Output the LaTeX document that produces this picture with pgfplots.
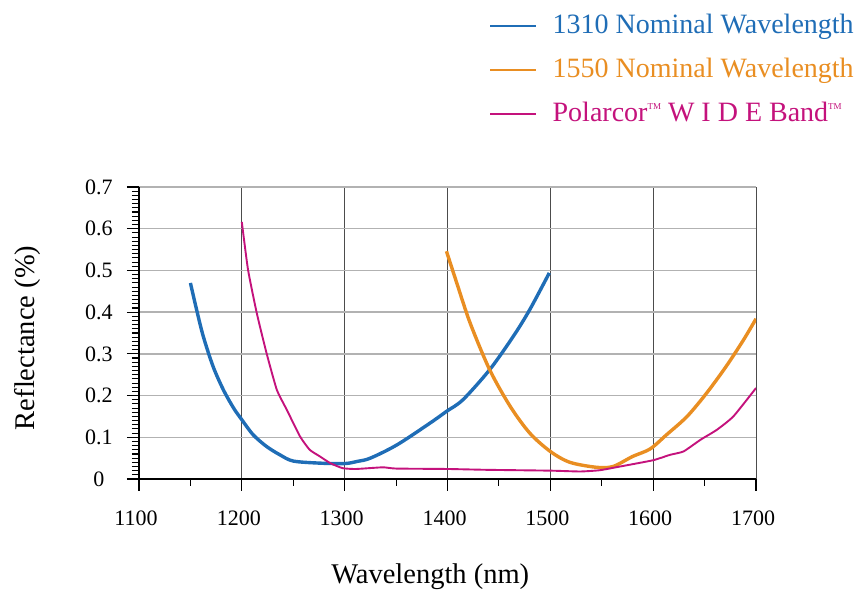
\documentclass[border=0pt]{standalone}
\usepackage{fontspec}
\setmainfont{Liberation Serif}
\usepackage{pgfplots}
\pgfplotsset{compat=1.18}
\definecolor{c1310}{HTML}{1F6DB6}
\definecolor{c1550}{HTML}{E98E22}
\definecolor{cpol}{HTML}{C4127C}
\newcommand{\tm}{\raisebox{0.9ex}{\fontsize{9}{9}\selectfont TM}}
\begin{document}
\begin{tikzpicture}
\begin{axis}[name=ax, scale only axis, width=617pt, height=292pt,
  xmin=1100, xmax=1700, ymin=0, ymax=0.7,
  axis lines*=left,
  xtick={1100,1200,1300,1400,1500,1600,1700},
  ytick={0,0.1,0.2,0.3,0.4,0.5,0.6,0.7},
  minor x tick num=1, minor y tick num=9,
  tick align=outside, major tick length=12pt, minor tick length=7pt,
  tick style={black, line width=1.1pt},
  axis line style={black, line width=1.5pt},
  xmajorgrids, ymajorgrids,
  x grid style={draw=black!70, line width=0.8pt},
  y grid style={draw=black!30, line width=1.4pt},
  /pgf/number format/assume math mode=true,
  /pgf/number format/1000 sep={},
  yticklabel={\pgfmathprintnumber[fixed,precision=1]{\tick}},
  tick label style={font=\fontsize{22}{26}\selectfont},
  xticklabel style={anchor=center, yshift=-27pt, xshift=-3pt},
  yticklabel style={anchor=center, xshift=-28pt},
  label style={font=\fontsize{28.5}{32}\selectfont},
  xlabel={Wavelength (nm)}, ylabel={Reflectance (\%)},
  xlabel style={at={(axis description cs:0.472,-0.336)}, anchor=center},
  ylabel style={at={(axis description cs:-0.1815,0.483)}, anchor=center},
  legend cell align=left,
  legend style={at={(axis description cs:0.569,1.603)}, anchor=north west,
    draw=none, fill=none, inner sep=0pt, row sep=15pt, column sep=17pt,
    font=\fontsize{28}{30}\selectfont,
    nodes={inner sep=0pt, text height=22pt, text depth=7pt}},
]
\addlegendimage{legend image code/.code={\fill[c1310] (0pt,-0.8pt) rectangle (45pt,0.8pt);}}
\addlegendentry{\textcolor{c1310}{1310 Nominal Wavelength}}
\addlegendimage{legend image code/.code={\fill[c1550] (0pt,-0.8pt) rectangle (45pt,0.8pt);}}
\addlegendentry{\textcolor{c1550}{1550 Nominal Wavelength}}
\addlegendimage{legend image code/.code={\fill[cpol] (0pt,-0.8pt) rectangle (45pt,0.8pt);}}
\addlegendentry{\textcolor{cpol}{Polarcor\tm\ W\ I\ D\ E Band\tm}}
\addplot[c1310, line width=3.4pt, smooth, tension=0.5, forget plot] coordinates {
(1150,0.470) (1156,0.406) (1162.5,0.342) (1172,0.270) (1182,0.214) (1192,0.170)
(1200,0.142) (1211,0.106) (1224,0.078) (1237,0.058) (1250,0.043) (1276,0.038)
(1300,0.037) (1312,0.042) (1325,0.050) (1351,0.082) (1383,0.134) (1399,0.162)
(1415,0.190) (1441,0.262) (1464,0.342) (1480,0.406) (1499,0.494)};
\addplot[c1550, line width=3.4pt, smooth, tension=0.5, forget plot] coordinates {
(1399,0.546) (1409,0.470) (1422,0.374) (1441,0.262) (1461,0.174) (1480,0.110)
(1500,0.066) (1519,0.040) (1545,0.028) (1561,0.030) (1580,0.054) (1597,0.072)
(1613,0.106) (1633,0.150) (1652,0.206) (1671,0.270) (1688,0.334) (1700,0.384)};
\addplot[cpol, line width=1.9pt, smooth, tension=0.3, forget plot] coordinates {
(1200,0.616) (1206,0.502) (1214.5,0.398) (1224,0.302) (1234,0.214) (1243.7,0.166)
(1256.6,0.102) (1266,0.070) (1276,0.054) (1286,0.038) (1298,0.026) (1311,0.024)
(1337,0.028) (1350,0.025) (1400,0.024) (1438,0.022) (1500,0.020) (1529,0.018)
(1548,0.021) (1568,0.030) (1600,0.045) (1616.5,0.058) (1629.5,0.066) (1646,0.094)
(1662,0.118) (1678,0.150) (1700,0.218)};
\end{axis}
\pgfresetboundingbox
\path ([xshift=-139pt,yshift=-113pt]ax.south west) rectangle ([xshift=105pt,yshift=187pt]ax.north east);
\end{tikzpicture}
\end{document}
